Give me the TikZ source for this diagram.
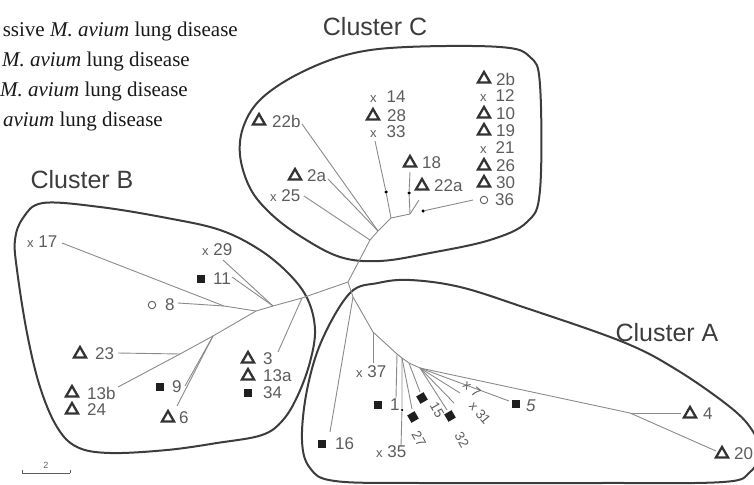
\documentclass[tikz,border=0pt]{standalone}
\usepackage{fontspec}
\setmainfont{Liberation Serif}
\setsansfont{Liberation Sans}
\usetikzlibrary{shapes.geometric}

\definecolor{hullcol}{HTML}{3C3C3C}
\definecolor{branchcol}{HTML}{8A8A8A}
\definecolor{labcol}{HTML}{5C5C5C}
\definecolor{markcol}{HTML}{333333}

\newcommand\xm{{\fontsize{13}{13}\selectfont x}}

\tikzset{
  lab/.style={inner sep=0pt, anchor=west, text=labcol, font=\fontsize{17}{17}\sffamily\selectfont},
  rotlab/.style={inner sep=0pt, text=labcol, font=\fontsize{13.5}{13.5}\sffamily\selectfont},
  tri/.style={regular polygon, regular polygon sides=3, draw=markcol, line width=2.3pt,
    minimum size=14pt, inner sep=0pt},
  sq/.style={rectangle, fill=black!88, minimum size=8.5pt, inner sep=0pt},
  ring/.style={circle, draw=labcol, line width=0.9pt, minimum size=7.5pt, inner sep=0pt},
  tip/.style={circle, fill=black, inner sep=0pt, minimum size=3.5pt},
  hull/.style={draw=hullcol, line width=2pt},
  clustername/.style={text=hullcol, font=\fontsize{25}{25}\sffamily\selectfont},
  legend/.style={anchor=base east, inner sep=0pt, text=black!90, font=\fontsize{21}{21}\selectfont},
}

\begin{document}
\begin{tikzpicture}[x=1pt, y=-1pt]
  \useasboundingbox (0,0) rectangle (754,484);
  \clip (0,0) rectangle (754,484);

  % legend, cut at the left edge
  \node[legend] (leg1) at (238,37)  {ssive \textit{M. avium} lung disease};
  \node[legend] (leg2) at (190,67)  {\textit{M. avium} lung disease};
  \node[legend] (leg3) at (188,97)  {\textit{M. avium} lung disease};
  \node[legend] (leg4) at (163,127) {\textit{avium} lung disease};

  % clusters
  \draw[hull] plot[smooth cycle, tension=0.6] coordinates {
    (407,47) (500,47) (530,57) (540,85) (540,190) (527,222) (490,240) (430,253)
    (380,261) (340,257) (300,236) (270,213) (250,188) (240,155) (244,125)
    (262,98) (300,73) (350,54)};
  \draw[hull] plot[smooth cycle, tension=0.6] coordinates {
    (43,203) (100,207) (167,218) (220,230) (260,250) (290,275) (308,300)
    (315,330) (310,362) (298,395) (283,420) (262,435) (217,443) (167,450)
    (110,453) (77,447) (57,427) (40,387) (27,333) (17,270) (15,240) (23,218)};
  \draw[hull] plot[smooth cycle, tension=0.6] coordinates {
    (350,293) (378,283) (410,280) (460,287) (523,307) (623,342) (677,370)
    (730,407) (752,430) (760,452) (750,472) (723,482) (600,483) (420,483)
    (335,481) (310,468) (302,440) (307,390) (322,340)};

  \node[clustername] (nameC) at (375,27)  {Cluster C};
  \node[clustername] (nameB) at (82,180)  {Cluster B};
  \node[clustername] (nameA) at (667,333) {Cluster A};

  % inner points of the tree
  \coordinate (c1) at (370,240);
  \coordinate (c2) at (378,231);
  \coordinate (c3) at (391,218);
  \coordinate (c4) at (410,214);
  \coordinate (m1) at (348,282);
  \coordinate (a0) at (353,297);
  \coordinate (a1) at (373,332);
  \coordinate (a2) at (397,354);
  \coordinate (a3) at (402,358);
  \coordinate (a4) at (409,363);
  \coordinate (a5) at (420,368);
  \coordinate (a6) at (630,413);
  \coordinate (b1) at (302,298);
  \coordinate (b2) at (273,306);
  \coordinate (b3) at (256,311);
  \coordinate (b4) at (224,306);
  \coordinate (b5) at (213,336);
  \coordinate (b6) at (180,354);

  % free ends of the branches
  \coordinate (e22b) at (302,124);
  \coordinate (e2a)  at (328,179);
  \coordinate (e25)  at (304,196);
  \coordinate (e33)  at (375,141);
  \coordinate (e18)  at (410,172);
  \coordinate (e22a) at (419,200);
  \coordinate (e36)  at (473,200);
  \coordinate (e16)  at (330,432);
  \coordinate (e37)  at (373,363);
  \coordinate (e1)   at (396,398);
  \coordinate (e35)  at (401,446);
  \coordinate (e15)  at (420,392);
  \coordinate (e27)  at (412,409);
  \coordinate (e32)  at (447,410);
  \coordinate (e31)  at (454,403);
  \coordinate (e7)   at (460,393);
  \coordinate (e5)   at (509,401);
  \coordinate (e4)   at (681,413);
  \coordinate (e20)  at (716,451);
  \coordinate (e3)   at (278,352);
  \coordinate (e29)  at (223,260);
  \coordinate (e11)  at (232,277);
  \coordinate (e17)  at (62,243);
  \coordinate (e8)   at (178,303);
  \coordinate (e9)   at (185,386);
  \coordinate (e6)   at (177,406);
  \coordinate (e23)  at (118,353);
  \coordinate (e13b) at (118,387);

  \node[tip] (d33) at (386,192) {};
  \node[tip] (d18) at (409,193) {};
  \node[tip] (d36) at (423,211) {};
  \node[tip, minimum size=2.5pt] (d35) at (402,410) {};

  \begin{scope}[draw=branchcol, line width=0.9pt]
    \draw (c1) -- (c2) -- (c3) -- (c4);
    \draw (e22b) -- (c2);
    \draw (e2a) -- (c2);
    \draw (e25) -- (c1);
    \draw (e33) -- (d33) -- (c3);
    \draw (e18) -- (d18) -- (c4);
    \draw (e22a) -- (c4);
    \draw (e36) -- (d36);

    \draw (c1) -- (m1) -- (a0);
    \draw (m1) -- (b1);

    \draw (a0) -- (a1) -- (a2) -- (a3) -- (a4) -- (a5) -- (a6);
    \draw (a0) -- (e16);
    \draw (a1) -- (e37);
    \draw (a2) -- (e1);
    \draw (a3) -- (d35) -- (e35);
    \draw (a3) -- (e27);
    \draw (a4) -- (e15);
    \draw (a5) -- (e32);
    \draw (a5) -- (e31);
    \draw (a5) -- (e7);
    \draw (a5) -- (e5);
    \draw (a6) -- (e4);
    \draw (a6) -- (e20);

    \draw (b1) -- (b2) -- (b3) -- (b4);
    \draw (b1) -- (e3);
    \draw (b2) -- (e29);
    \draw (b2) -- (e11);
    \draw (b4) -- (e17);
    \draw (b4) -- (e8);
    \draw (b3) -- (b5) -- (b6) -- (e13b);
    \draw (b5) -- (e9);
    \draw (b5) -- (e6);
    \draw (b6) -- (e23);
  \end{scope}

  % cluster C leaves
  \node[tri] (m22b) at (259,121) {};  \node[lab] (l22b) at (272,121) {22b};
  \node[tri] (m2a)  at (295,176) {};  \node[lab] (l2a)  at (307,176) {2a};
  \node[lab] (l25) at (270,196) {\xm\ 25};
  \node[lab] (l14) at (370,97)  {\xm\hspace{10pt}14};
  \node[tri] (m28)  at (373,116) {};  \node[lab] (l28)  at (387,116) {28};
  \node[lab] (l33) at (370,132) {\xm\hspace{10pt}33};
  \node[tri] (m18)  at (410,163) {};  \node[lab] (l18)  at (422,163) {18};
  \node[tri] (m22a) at (422,186) {};  \node[lab] (l22a) at (434,186) {22a};
  \node[tri] (m2b)  at (484,79)  {};  \node[lab] (l2b)  at (496,79)  {2b};
  \node[lab] (l12) at (480,96)  {\xm\hspace{9pt}12};
  \node[tri] (m10)  at (484,114) {};  \node[lab] (l10)  at (496,114) {10};
  \node[tri] (m19)  at (484,131) {};  \node[lab] (l19)  at (496,131) {19};
  \node[lab] (l21) at (480,148) {\xm\hspace{9pt}21};
  \node[tri] (m26)  at (484,166) {};  \node[lab] (l26)  at (496,166) {26};
  \node[tri] (m30)  at (484,183) {};  \node[lab] (l30)  at (496,183) {30};
  \node[ring] (m36) at (484,200) {};  \node[lab] (l36)  at (495,200) {36};

  % cluster B leaves
  \node[lab] (l17) at (27,242)  {\xm\ 17};
  \node[lab] (l29) at (202,250) {\xm\ 29};
  \node[sq]  (m11)  at (201,279) {};  \node[lab] (l11)  at (213,279) {11};
  \node[ring] (m8)  at (152,305) {};  \node[lab] (l8)   at (165,305) {8};
  \node[tri] (m23)  at (80,354)  {};  \node[lab] (l23)  at (95,354)  {23};
  \node[tri] (m13b) at (72,393)  {};  \node[lab] (l13b) at (87,393)  {13b};
  \node[tri] (m24)  at (72,410)  {};  \node[lab] (l24)  at (87,410)  {24};
  \node[sq]  (m9)   at (160,387) {};  \node[lab] (l9)   at (172,387) {9};
  \node[tri] (m6)   at (168,418) {};  \node[lab] (l6)   at (179,418) {6};
  \node[tri] (m3)   at (248,359) {};  \node[lab] (l3)   at (263,359) {3};
  \node[tri] (m13a) at (248,376) {};  \node[lab] (l13a) at (263,376) {13a};
  \node[sq]  (m34)  at (248,393) {};  \node[lab] (l34)  at (263,393) {34};

  % cluster A leaves
  \node[lab] (l37) at (356,372) {\xm\ 37};
  \node[sq]  (m1l)  at (378,405) {};  \node[lab] (l1)   at (390,405) {1};
  \node[lab] (l35) at (376,452) {\xm\ 35};
  \node[sq]  (m16)  at (322,444) {};  \node[lab] (l16)  at (335,444) {16};
  \node[sq, rotate=30] (m15) at (422,398) {};
  \node[rotlab, rotate=-60] (l15) at (437,410) {15};
  \node[sq, rotate=30] (m27) at (413,417) {};
  \node[rotlab, rotate=-60] (l27) at (419,439) {27};
  \node[sq, rotate=30] (m32) at (450,416) {};
  \node[rotlab, rotate=-60] (l32) at (462,440) {32};
  \node[rotlab, rotate=-40] (l7)  at (472,389) {\xm\ 7};
  \node[rotlab, rotate=-50] (l31) at (480,413) {\xm\ 31};
  \node[sq]  (m5)   at (516,404) {};  \node[lab] (l5)   at (526,406) {\textit{5}};
  \node[tri] (m4)   at (690,414) {};  \node[lab] (l4)   at (703,414) {4};
  \node[tri] (m20)  at (722,454) {};  \node[lab] (l20)  at (734,454) {20};

  % scale bar
  \coordinate (s0) at (22,473);
  \coordinate (s1) at (70,473);
  \draw[draw=labcol, line width=0.8pt] (s0) -- (s1);
  \draw[draw=labcol, line width=0.8pt] (s0) -- ++(0,-3);
  \draw[draw=labcol, line width=0.8pt] (s1) -- ++(0,-3);
  \node[text=labcol, font=\fontsize{9}{9}\sffamily\selectfont] (sbar) at (46,465) {2};
\end{tikzpicture}
\end{document}
